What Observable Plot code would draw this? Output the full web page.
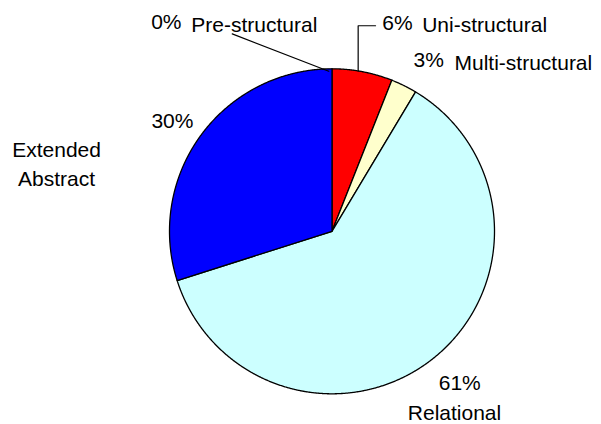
<!DOCTYPE html>
<html><head><meta charset="utf-8">
<script src="https://cdn.jsdelivr.net/npm/d3@7"></script>
<script src="https://cdn.jsdelivr.net/npm/@observablehq/plot@0.6"></script>
<style>body{margin:0;background:#fff}</style>
</head><body><div id="chart"></div>
<script>
// ---- data ----
const categories = ["Pre-structural", "Uni-structural", "Multi-structural", "Relational", "Extended Abstract"];
const values = [0, 6.0, 2.6, 61.5, 29.9];
const percentLabels = ["0%", "6%", "3%", "61%", "30%"];
const nameLabels = ["Pre-structural", "Uni-structural", "Multi-structural", "Relational", "Extended\nAbstract"];
const colors = ["#ffffff", "#ff0000", "#ffffcc", "#ccffff", "#0000ff"];

// ---- label layout (in pie-radius units, relative to the pie centre) ----
const pctPos = [[-1.113, 1.285], [0.309, 1.282], [0.502, 1.05], [0.786, -0.934], [-0.982, 0.676]];
const pctAnchor = ["start", "start", "start", "middle", "middle"];
const namePos = [[-0.866, 1.285], [0.555, 1.282], [0.754, 1.05], [0.754, -1.103], [-1.695, 0.428]];
const nameAnchor = ["start", "start", "start", "middle", "middle"];
const leaders = [
  {slice: 0, pts: [[-0.02, 0.985], [-0.614, 1.215]]},
  {slice: 1, pts: [[0.161, 0.987], [0.161, 1.265], [0.268, 1.265]]}
];

// ---- slice geometry from the values ----
const total = d3.sum(values);
let cum = 0;
const slicePts = [];
categories.forEach((name, i) => {
  const a0 = 2 * Math.PI * cum / total;
  cum += values[i];
  const a1 = 2 * Math.PI * cum / total;
  const n = Math.max(1, Math.ceil((a1 - a0) / (Math.PI / 720)));
  slicePts.push({name, color: colors[i], x: 0, y: 0});
  for (let k = 0; k <= n; k++) {
    const a = a0 + (a1 - a0) * k / n;
    slicePts.push({name, color: colors[i], x: Math.sin(a), y: Math.cos(a)});
  }
  slicePts.push({name, color: colors[i], x: 0, y: 0});
});

const pctRows = categories.map((c, i) => ({text: percentLabels[i], x: pctPos[i][0], y: pctPos[i][1], anchor: pctAnchor[i]}));
const nameRows = categories.map((c, i) => ({text: nameLabels[i], x: namePos[i][0], y: namePos[i][1], anchor: nameAnchor[i]}));
const leaderPts = leaders.flatMap(l => l.pts.map(p => ({id: l.slice, x: p[0], y: p[1]})));

const font = {fontSize: 21, fontFamily: "'Liberation Sans', Arial, sans-serif", fill: "#000"};
const textMarks = [];
for (const anchor of ["start", "middle"]) {
  textMarks.push(Plot.text(pctRows.filter(d => d.anchor === anchor), {x: "x", y: "y", text: "text", textAnchor: anchor, ...font}));
  textMarks.push(Plot.text(nameRows.filter(d => d.anchor === anchor), {x: "x", y: "y", text: "text", textAnchor: anchor, lineHeight: 1.38, ...font}));
}

const chart = Plot.plot({
  width: 601,
  height: 424,
  margin: 0,
  style: {background: "#fff", fontFamily: "'Liberation Sans', Arial, sans-serif"},
  x: {domain: [-1, 1], range: [169, 494], axis: null},
  y: {domain: [-1, 1], range: [393.3, 68.3], axis: null},
  color: {type: "identity"},
  marks: [
    Plot.line(slicePts, {x: "x", y: "y", z: "name", fill: "color", stroke: "#000", strokeWidth: 1.3, strokeLinejoin: "round", curve: "linear"}),
    Plot.line(leaderPts, {x: "x", y: "y", z: "id", stroke: "#000", strokeWidth: 1.2}),
    ...textMarks
  ]
});
document.getElementById("chart").appendChild(chart);
</script>
</body></html>
